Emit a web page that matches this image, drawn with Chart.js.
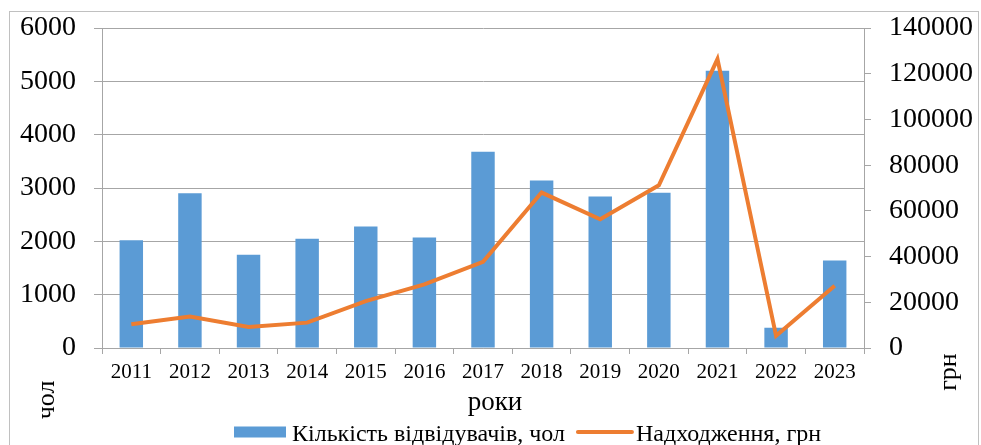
<!DOCTYPE html>
<html><head><meta charset="utf-8">
<script src="https://cdn.jsdelivr.net/npm/chart.js@4.4.1/dist/chart.umd.min.js"></script>
<style>html,body{margin:0;padding:0;background:#fff;overflow:hidden}#wrap{width:981px;height:445px;position:relative}</style>
</head><body><div id="wrap"><canvas id="c" width="981" height="445"></canvas></div>
<script>
const years = ['2011','2012','2013','2014','2015','2016','2017','2018','2019','2020','2021','2022','2023'];
const visitors = [2020, 2900, 1750, 2050, 2280, 2070, 3680, 3140, 2840, 2910, 5200, 380, 1640];
const revenue = [10400, 13800, 9200, 11100, 20500, 27800, 37700, 68000, 56300, 71200, 126400, 5300, 27200];
const leftAxis = {min: 0, max: 6000, step: 1000};
const rightAxis = {min: 0, max: 140000, step: 20000};
const seriesLabels = ['Кількість відвідувачів, чол', 'Надходження, грн'];
const xTitle = 'роки';
const yTitle = 'чол';
const y1Title = 'грн';

const BLUE = '#5B9BD5', ORANGE = '#ED7D31', GRID = '#a6a6a6';
const SERIF = '"Liberation Serif", "Times New Roman", serif';

const decor = {
  id: 'decor',
  beforeDraw(chart) {
    const ctx = chart.ctx;
    ctx.save();
    ctx.strokeStyle = '#c0c0c0';
    ctx.lineWidth = 1;
    ctx.strokeRect(9.5, 11.5, 969, 600);
    ctx.restore();
  },
  afterDraw(chart) {
    const ctx = chart.ctx;
    const a = chart.chartArea;
    ctx.save();
    ctx.fillStyle = '#000';
    ctx.font = '27px ' + SERIF;
    ctx.textAlign = 'center';
    ctx.textBaseline = 'alphabetic';
    ctx.fillText(xTitle, (a.left + a.right) / 2 + 12, 410);
    ctx.font = '26px ' + SERIF;
    ctx.textBaseline = 'middle';
    ctx.save();
    ctx.translate(47, 400);
    ctx.rotate(-Math.PI / 2);
    ctx.fillText(yTitle, 0, 0);
    ctx.restore();
    ctx.save();
    ctx.translate(949, 372);
    ctx.rotate(-Math.PI / 2);
    ctx.fillText(y1Title, 0, 0);
    ctx.restore();
    ctx.font = '24px ' + SERIF;
    ctx.textAlign = 'left';
    ctx.textBaseline = 'alphabetic';
    let x = 234;
    const cy = 432, base = 440.5;
    ctx.fillStyle = BLUE;
    ctx.fillRect(x, cy - 5.5, 52, 11);
    x += 52 + 6;
    ctx.fillStyle = '#000';
    ctx.fillText(seriesLabels[0], x, base);
    x += ctx.measureText(seriesLabels[0]).width + 13;
    ctx.strokeStyle = ORANGE;
    ctx.lineWidth = 4;
    ctx.lineCap = 'round';
    ctx.beginPath();
    ctx.moveTo(x, cy);
    ctx.lineTo(x + 54, cy);
    ctx.stroke();
    x += 54 + 4;
    ctx.fillText(seriesLabels[1], x, base);
    ctx.restore();
  }
};

const plain = v => String(v);

new Chart(document.getElementById('c'), {
  data: {
    labels: years,
    datasets: [
      {type: 'line', label: seriesLabels[1], data: revenue, yAxisID: 'y1', borderColor: ORANGE,
       backgroundColor: ORANGE, borderWidth: 4, pointRadius: 0, tension: 0, order: 0},
      {type: 'bar', label: seriesLabels[0], data: visitors, yAxisID: 'y', backgroundColor: BLUE,
       borderWidth: 0, barPercentage: 0.4, categoryPercentage: 1, order: 1}
    ]
  },
  options: {
    responsive: false,
    animation: false,
    devicePixelRatio: 1,
    layout: {padding: {top: 28, left: 0, right: 0, bottom: 0}},
    plugins: {legend: {display: false}, tooltip: {enabled: false}},
    scales: {
      x: {
        offset: true,
        grid: {offset: true, drawOnChartArea: false, drawTicks: true, tickLength: 6, color: GRID},
        border: {color: GRID},
        ticks: {color: '#000', font: {family: SERIF, size: 21}, padding: 6, maxRotation: 0, autoSkip: false},
        afterFit(s) { s.height = 97; s.paddingLeft = 0; s.paddingRight = 0; }
      },
      y: {
        position: 'left',
        min: leftAxis.min, max: leftAxis.max,
        grid: {color: GRID, tickLength: 8},
        border: {color: GRID},
        ticks: {stepSize: leftAxis.step, color: '#000', font: {family: SERIF, size: 28}, padding: 18, callback: plain},
        afterFit(s) { s.width = 102; s.paddingTop = 0; s.paddingBottom = 0; }
      },
      y1: {
        position: 'right',
        min: rightAxis.min, max: rightAxis.max,
        grid: {drawOnChartArea: false, color: GRID, tickLength: 7},
        border: {color: GRID},
        ticks: {stepSize: rightAxis.step, color: '#000', font: {family: SERIF, size: 28}, padding: 18, callback: plain},
        afterFit(s) { s.width = 117; s.paddingTop = 0; s.paddingBottom = 0; }
      }
    }
  },
  plugins: [decor]
});
</script></body></html>
